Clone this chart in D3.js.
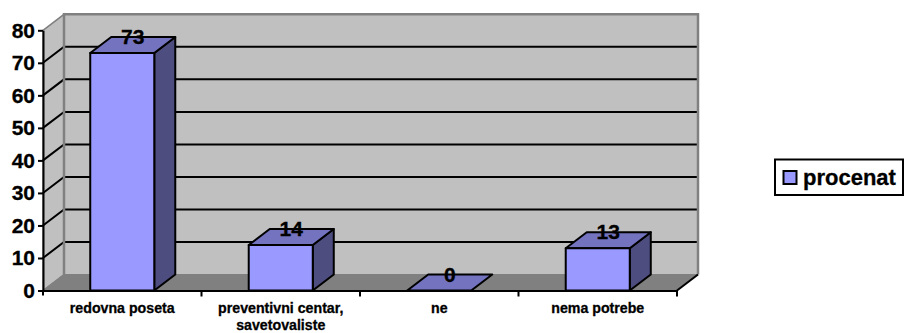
<!DOCTYPE html>
<meta charset="utf-8">
<style>
body { margin: 0; background: #fff; }
svg { display: block; }
text { font-family: "Liberation Sans", Arial, sans-serif; font-weight: bold; fill: #000; stroke: #000; stroke-width: 0.3px; }
</style>
<svg width="904" height="333"></svg>
<script src="https://d3js.org/d3.v7.min.js"></script>
<script>
var categories = ["redovna poseta", "preventivni centar,|savetovaliste", "ne", "nema potrebe"];
var procenat = [73, 14, 0, 13];
var yTicks = [0, 10, 20, 30, 40, 50, 60, 70, 80];
var seriesName = "procenat";

var svg = d3.select("svg"),
    left = 43, right = 677, top0 = 30.3, bottom = 290.5,
    dx = 21, dy = 16;   // 3d depth offset

var x = d3.scaleBand().domain(categories).range([left, right]);
var y = d3.scaleLinear().domain([0, 80]).range([bottom, top0]);
var barW = x.bandwidth() * 0.404;

var front = "#9999ff", topFace = "#7373bf", side = "#4d4d80", wall = "#c0c0c0", floor = "#808080";

function pts(a) { return a.map(function(p) { return p.join(","); }).join(" "); }

// walls and floor
svg.append("polygon")
    .attr("points", pts([[left, y(80)], [left + dx, y(80) - dy], [left + dx, y(0) - dy], [left, y(0)]]))
    .attr("fill", wall).attr("stroke", floor).attr("stroke-width", 1.5);
svg.append("polygon")
    .attr("points", pts([[left + dx, y(80) - dy], [right + dx, y(80) - dy], [right + dx, y(0) - dy], [left + dx, y(0) - dy]]))
    .attr("fill", wall);
svg.append("polygon")
    .attr("points", pts([[left, y(0)], [left + dx, y(0) - dy], [right + dx, y(0) - dy], [right, y(0)]]))
    .attr("fill", floor).attr("stroke", floor).attr("stroke-width", 1);

// gridlines, the 0 and 80 edges stay grey
var inner = yTicks.filter(function(t) { return t > 0 && t < 80; });
svg.selectAll(".grid").data(inner).enter().append("polyline")
    .attr("class", "grid")
    .attr("points", function(t) { return pts([[left, y(t)], [left + dx, y(t) - dy], [right + dx, y(t) - dy]]); })
    .attr("fill", "none").attr("stroke", "#000").attr("stroke-width", 2);

// grey wall frame goes over the gridline ends
svg.append("polyline")
    .attr("points", pts([[left + dx, y(0) - dy], [left + dx, y(80) - dy], [right + dx, y(80) - dy], [right + dx, y(0) - dy]]))
    .attr("fill", "none").attr("stroke", floor).attr("stroke-width", 2.5);

// right floor edge
svg.append("line")
    .attr("x1", right).attr("y1", y(0))
    .attr("x2", right + dx).attr("y2", y(0) - dy)
    .attr("stroke", "#000").attr("stroke-width", 2);

// bars
var bar = svg.selectAll(".bar").data(categories).enter().append("g").attr("class", "bar");
function bx(c) { return x(c) + (x.bandwidth() - barW) / 2; }
function val(i) { return y(procenat[i]); }

bar.filter(function(c, i) { return procenat[i] > 0; }).append("polygon")
    .attr("points", function(c) {
      var i = categories.indexOf(c), r = bx(c) + barW;
      return pts([[r, val(i)], [r + dx, val(i) - dy], [r + dx, y(0) - dy], [r, y(0)]]);
    })
    .attr("fill", side);
bar.append("polygon")
    .attr("points", function(c, i) {
      var l = bx(c), r = l + barW;
      return pts([[l, val(i)], [l + dx, val(i) - dy], [r + dx, val(i) - dy], [r, val(i)]]);
    })
    .attr("fill", topFace);
bar.filter(function(c, i) { return procenat[i] > 0; }).append("rect")
    .attr("x", bx)
    .attr("y", function(c) { return val(categories.indexOf(c)); })
    .attr("width", barW)
    .attr("height", function(c) { return y(0) - val(categories.indexOf(c)); })
    .attr("fill", front);
bar.selectAll("polygon, rect")
    .attr("stroke", "#000").attr("stroke-width", 2).attr("stroke-linejoin", "round");

// axes
var yAxis = svg.append("g")
    .attr("transform", "translate(" + left + ",0)")
    .call(d3.axisLeft(y).tickValues(yTicks).tickSize(5).tickPadding(3).tickSizeOuter(0));
yAxis.selectAll("text").style("font-size", "21px").style("font-family", "Liberation Sans").style("font-weight", "bold");

var xAxis = svg.append("g")
    .attr("transform", "translate(0," + bottom + ")")
    .call(d3.axisBottom(x).tickSize(0).tickFormat(""));
xAxis.selectAll(".tick text").remove();
yAxis.select(".domain").attr("stroke-width", 2);
xAxis.select(".domain").attr("stroke-width", 2);
yAxis.selectAll("line").attr("stroke-width", 2);

// category ticks sit on the band edges
svg.selectAll(".xtick").data(categories).enter().append("line")
    .attr("class", "xtick")
    .attr("x1", function(c) { return x(c) + x.step(); })
    .attr("x2", function(c) { return x(c) + x.step(); })
    .attr("y1", bottom).attr("y2", bottom + 6)
    .attr("stroke", "#000").attr("stroke-width", 2);
svg.append("line")
    .attr("x1", left).attr("x2", left)
    .attr("y1", bottom).attr("y2", bottom + 5)
    .attr("stroke", "#000").attr("stroke-width", 2);

// category labels
var catLabel = svg.selectAll(".cat").data(categories).enter().append("text")
    .attr("class", "cat")
    .attr("text-anchor", "middle")
    .style("font-size", "14.2px");
catLabel.selectAll("tspan")
    .data(function(c) { return c.split("|").map(function(s) { return { s: s, c: c }; }); })
    .enter().append("tspan")
    .attr("x", function(d) { return x(d.c) + x.bandwidth() / 2; })
    .attr("y", function(d, i) { return 313 + i * 16.5; })
    .text(function(d) { return d.s; });

// value labels
svg.selectAll(".val").data(procenat).enter().append("text")
    .attr("class", "val")
    .attr("text-anchor", "middle")
    .attr("x", function(d, i) { return x(categories[i]) + x.bandwidth() / 2 + dx / 2; })
    .attr("y", function(d) { return y(d) - 9; })
    .style("font-size", "21px")
    .text(function(d) { return d; });

// legend
svg.append("rect").attr("x", 775).attr("y", 159.5).attr("width", 128).attr("height", 35.5)
    .attr("fill", "#fff").attr("stroke", "#000").attr("stroke-width", 2);
svg.append("rect").attr("x", 783.5).attr("y", 171).attr("width", 13).attr("height", 13)
    .attr("fill", front).attr("stroke", "#000").attr("stroke-width", 2);
svg.append("text").attr("x", 803).attr("y", 184.5).style("font-size", "22px").text(seriesName);
</script>
